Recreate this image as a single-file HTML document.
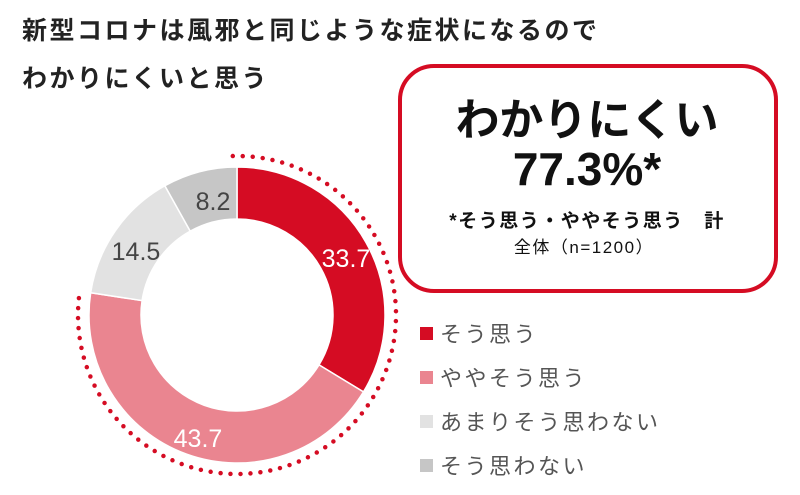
<!DOCTYPE html>
<html><head><meta charset="utf-8"><style>
body{margin:0;background:#fff;}
svg{display:block;font-family:"Liberation Sans","Noto Sans CJK JP",sans-serif;}
</style></head><body>
<svg width="800" height="495" viewBox="0 0 800 495">
<text x="22" y="39" font-size="25" font-weight="bold" fill="#222" letter-spacing="2.5">新型コロナは風邪と同じような症状になるので</text>
<text x="22" y="87" font-size="25" font-weight="bold" fill="#222" letter-spacing="2.5">わかりにくいと思う</text>
<rect x="400" y="66" width="376" height="225" rx="34" fill="#fff" stroke="#d50c23" stroke-width="4"/>
<text x="587" y="135" font-size="44" font-weight="bold" text-anchor="middle" fill="#111">わかりにくい</text>
<text x="587" y="185" font-size="46" font-weight="bold" text-anchor="middle" fill="#111">77.3%*</text>
<text x="587" y="227" font-size="19" font-weight="bold" text-anchor="middle" fill="#111" letter-spacing="1.5">*そう思う・ややそう思う　計</text>
<text x="584" y="253" font-size="17" text-anchor="middle" fill="#111" letter-spacing="1.5">全体（n=1200）</text>
<g stroke="#fff" stroke-width="1.5">
<path d="M237 167 A148 148 0 0 1 363.45 391.92 L319.02 364.89 A96 96 0 0 0 237 219 Z" fill="#d50c23"/>
<path d="M363.45 391.92 A148 148 0 0 1 90.67 292.77 L142.08 300.58 A96 96 0 0 0 319.02 364.89 Z" fill="#ea8590"/>
<path d="M90.67 292.77 A148 148 0 0 1 164.88 185.75 L190.22 231.16 A96 96 0 0 0 142.08 300.58 Z" fill="#e2e2e2"/>
<path d="M164.88 185.75 A148 148 0 0 1 237 167 L237 219 A96 96 0 0 0 190.22 231.16 Z" fill="#c6c6c6"/>
</g>
<path d="M232.8 156.05 A159 159 0 1 1 79.2 295.6" fill="none" stroke="#d50c23" stroke-width="4.5" stroke-linecap="round" stroke-dasharray="0 10"/>
<g font-size="25">
<text x="346" y="267" text-anchor="middle" fill="#fff">33.7</text>
<text x="198" y="447" text-anchor="middle" fill="#fff">43.7</text>
<text x="136" y="260" text-anchor="middle" fill="#444">14.5</text>
<text x="213" y="210" text-anchor="middle" fill="#444">8.2</text>
</g>
<rect x="420" y="327" width="13" height="13" fill="#d50c23"/>
<rect x="420" y="371" width="13" height="13" fill="#ea8590"/>
<rect x="420" y="415" width="13" height="13" fill="#e2e2e2"/>
<rect x="420" y="459" width="13" height="13" fill="#c6c6c6"/>
<g font-size="22" fill="#555" letter-spacing="2.5">
<text x="440" y="342">そう思う</text>
<text x="440" y="386">ややそう思う</text>
<text x="440" y="430">あまりそう思わない</text>
<text x="440" y="474">そう思わない</text>
</g>
</svg>
</body></html>
